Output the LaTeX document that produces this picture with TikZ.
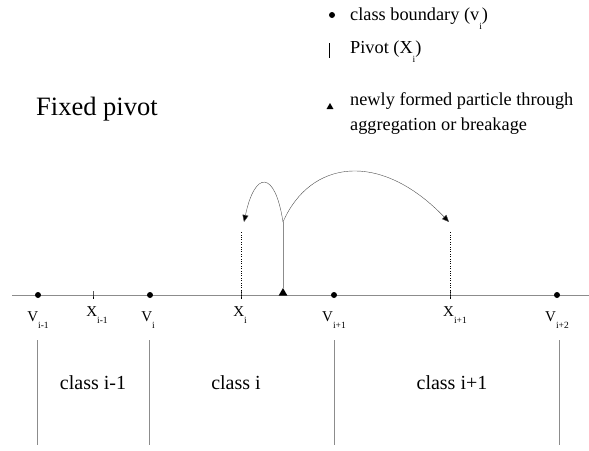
\documentclass[tikz,border=0pt]{standalone}
\usepackage{fontspec}
\setmainfont{Liberation Serif}
\usetikzlibrary{arrows.meta, positioning, shapes.geometric}
\definecolor{axisGray}{RGB}{140,140,140}
\definecolor{arcGray}{RGB}{80,80,80}
\newcommand{\lsub}[1]{\raisebox{-1.1ex}{\fontsize{9.5}{10}\selectfont #1}}

\begin{document}
\begin{tikzpicture}[
  x=1pt, y=-1pt,
  >={Triangle[length=7pt, width=6pt]},
  bound/.style={circle, fill, inner sep=0pt, minimum size=6pt},
  newpart/.style={regular polygon, regular polygon sides=3, fill, inner sep=0pt, minimum size=10pt},
  axlbl/.style={anchor=base, inner sep=0pt, font=\fontsize{15}{16}\selectfont},
  clslbl/.style={inner sep=0pt, font=\fontsize{20}{24}\selectfont},
  legtxt/.style={anchor=base west, inner sep=0pt, align=left, font=\fontsize{18.3}{25}\selectfont}
]
  \useasboundingbox (0,0) rectangle (589,450);

  % axis
  \coordinate (axL) at (12,295);
  \coordinate (axR) at (589,295);
  \draw[axisGray, thick] (axL) -- (axR);

  % class boundaries and pivots
  \node[bound] (vim1) at (38,295) {};
  \node[bound] (vi)   at (150,295) {};
  \node[bound] (vip1) at (334,295) {};
  \node[bound] (vip2) at (557,295) {};
  \coordinate (xim1) at (93,295);
  \coordinate (xi)   at (241,295);
  \coordinate (xip1) at (450,295);
  \node[newpart] (new) at (283,293) {};

  \draw (93,291) -- (xim1) -- (93,299);
  \draw (241,290) -- (xi) -- (241,299);
  \draw (450,290) -- (xip1) -- (450,299);

  \node[axlbl] (lvim1) at (38,321)  {V\lsub{i-1}};
  \node[axlbl] (lvi)   at (148,321) {V\lsub{i}};
  \node[axlbl] (lvip1) at (334,321) {V\lsub{i+1}};
  \node[axlbl] (lvip2) at (557,321) {V\lsub{i+2}};
  \node[axlbl] (lxim1) at (97,316)  {X\lsub{i-1}};
  \node[axlbl] (lxi)   at (240,316) {X\lsub{i}};
  \node[axlbl] (lxip1) at (455,316) {X\lsub{i+1}};

  % class separators
  \foreach \px in {37,149,334,559}
    \draw[axisGray, thick] (\px,340) -- (\px,445);
  \node[clslbl] (ci1) at (93,383)  {class i-1};
  \node[clslbl] (ci)  at (236,383) {class i};
  \node[clslbl] (ci2) at (452,383) {class i+1};

  % redistribution to neighbouring pivots
  \coordinate (jn) at (283,222);
  \coordinate (tl) at (244,222);
  \coordinate (tr) at (449,222);
  \draw[axisGray, thick] (new) -- (jn);
  \draw[dotted] (xi) -- (241,232);
  \draw[dotted] (xip1) -- (450,232);
  \draw[-{Triangle[length=7pt, width=6pt, fill=black]}, arcGray] (jn) .. controls (275,170) and (255,170) .. (tl);
  \draw[-{Triangle[length=7pt, width=6pt, fill=black]}, arcGray] (jn) .. controls (310,160) and (380,150) .. (tr);

  % legend
  \node[bound] (kdot) at (332,15) {};
  \coordinate (kbarT) at (329,43);
  \coordinate (kbarB) at (329,58);
  \draw[thick] (kbarT) -- (kbarB);
  \node[newpart, minimum size=8pt] (ktri) at (330,107) {};
  \node[legtxt] (kt1) at (350,20)  {class boundary (v\lsub{i})};
  \node[legtxt] (kt2) at (350,53)  {Pivot (X\lsub{i})};
  \node[legtxt] (kt3) at (350,130) {newly formed particle through\\aggregation or breakage};

  \node[anchor=base west, inner sep=0pt, font=\fontsize{26.5}{30}\selectfont] (title) at (36,115) {Fixed pivot};
\end{tikzpicture}
\end{document}
